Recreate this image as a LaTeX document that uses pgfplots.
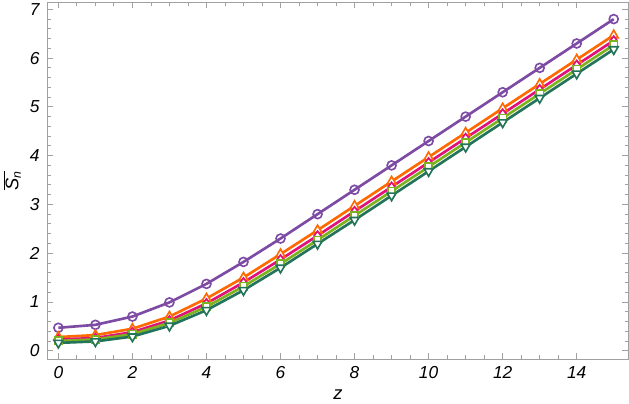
\documentclass[border=0pt]{standalone}
\usepackage{pgfplots}
\pgfplotsset{compat=1.18}
\usepackage{fontspec}
\setmainfont{Liberation Sans}
\definecolor{cPur}{HTML}{7E4BA4}
\definecolor{cOra}{HTML}{FF6A00}
\definecolor{cMag}{HTML}{E2117A}
\definecolor{cGrn}{HTML}{7DB21F}
\definecolor{cTea}{HTML}{23745A}
\definecolor{cFrame}{HTML}{A0A0A0}
\begin{document}
\begin{tikzpicture}
\begin{axis}[
  scale only axis, width=570pt, height=350pt,
  xmin=-0.3, xmax=15.4, ymin=-0.17, ymax=7.15,
  xtick={0,2,...,14}, ytick={0,...,7},
  minor x tick num=3, minor y tick num=4,
  tick align=inside, major tick length=6pt, minor tick length=3.5pt,
  axis line style={cFrame, line width=0.9pt},
  every tick/.style={cFrame, line width=0.8pt},
  tick label style={font=\fontsize{17}{19}\selectfont\itshape, black},
  xticklabel style={yshift=-4pt},
  yticklabel style={xshift=-4pt},
  /pgf/number format/assume math mode=true,
  xlabel={\fontsize{18}{20}\selectfont\itshape z},
  ylabel={\fontsize{18}{20}\selectfont$\overline{\mbox{\itshape S}_{\mbox{\fontsize{12}{12}\selectfont\itshape n}}}$},
  xlabel style={yshift=-4pt},
  ylabel style={yshift=2pt},
  every axis plot/.append style={line width=2.6pt, mark size=4.4pt},
]
\addplot[cPur, mark=o, mark options={solid, fill=white, line width=1.6pt}] coordinates {
(0,0.47) (1,0.53) (2,0.70) (3,0.99) (4,1.37) (5,1.82) (6,2.30) (7,2.80)
(8,3.30) (9,3.80) (10,4.30) (11,4.80) (12,5.30) (13,5.80) (14,6.30) (15,6.80)};
\addplot[cOra, mark=triangle*, mark options={solid, fill=white, line width=1.6pt}, mark size=5pt] coordinates {
(0,0.28) (1,0.32) (2,0.45) (3,0.70) (4,1.07) (5,1.50) (6,1.98) (7,2.47)
(8,2.97) (9,3.47) (10,3.97) (11,4.47) (12,4.97) (13,5.47) (14,5.97) (15,6.47)};
\addplot[cMag, mark=diamond*, mark options={solid, fill=white, line width=1.6pt}] coordinates {
(0,0.23) (1,0.26) (2,0.38) (3,0.62) (4,0.97) (5,1.40) (6,1.87) (7,2.36)
(8,2.86) (9,3.36) (10,3.86) (11,4.36) (12,4.86) (13,5.36) (14,5.86) (15,6.36)};
\addplot[cGrn, mark=square*, mark size=3.6pt, mark options={solid, fill=white, line width=1.6pt}] coordinates {
(0,0.20) (1,0.23) (2,0.34) (3,0.57) (4,0.90) (5,1.32) (6,1.78) (7,2.27)
(8,2.77) (9,3.27) (10,3.77) (11,4.27) (12,4.77) (13,5.27) (14,5.77) (15,6.27)};
\addplot[cTea, mark=triangle*, mark size=5pt, mark options={solid, fill=white, line width=1.6pt, rotate=180}] coordinates {
(0,0.16) (1,0.19) (2,0.29) (3,0.51) (4,0.83) (5,1.24) (6,1.70) (7,2.19)
(8,2.68) (9,3.18) (10,3.68) (11,4.18) (12,4.68) (13,5.18) (14,5.68) (15,6.18)};
\end{axis}
\end{tikzpicture}
\end{document}
